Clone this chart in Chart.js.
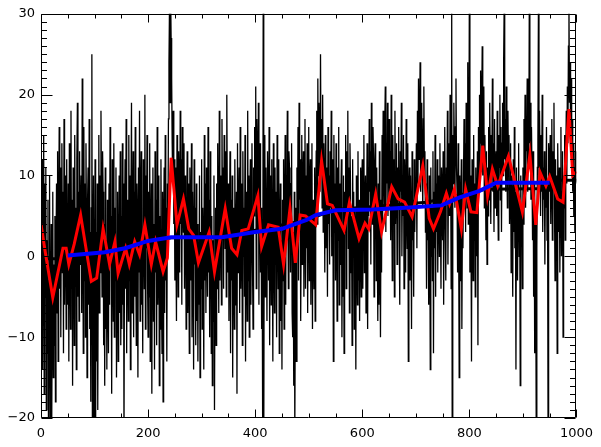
<!DOCTYPE html>
<html>
<head>
<meta charset="utf-8">
<script src="https://cdn.jsdelivr.net/npm/chart.js@4/dist/chart.umd.min.js"></script>
<style>
  html, body { margin: 0; padding: 0; background: #fff; }
  #c { display: block; }
</style>
</head>
<body>
<canvas id="c" width="601" height="447"></canvas>
<script>
// ---- data (read/estimated from the reference) ----
const noise = [
  3,-8,12,-14,6,15,-17,9,-5,11,-19,2,-12,7,-22,-3,10,-24,-9,4,-21,-6,8,-15,-1,-11,5,-18,0,9,-7,13,-13,3,16,-4,11,-10,6,14,-2,8,-12,17,-6,2,10,-9,12,-3,
  -6,9,-13,14,1,-9,18,-4,7,-16,11,3,-11,15,-2,6,-14,12,19,-5,8,-8,13,-1,5,10,-7,22,4,-12,16,-3,9,-10,14,2,-15,7,11,-6,17,-9,3,-18,6,25,-21,-4,10,-24,
  -8,12,-22,3,-13,9,-19,1,15,-7,10,-2,18,6,-5,13,8,-11,4,-16,11,-9,2,-14,7,-4,-12,9,-6,16,-1,5,-17,12,3,-8,14,-10,6,-3,11,-15,0,8,-13,-2,10,-7,13,-11,
  5,-9,14,-6,9,-23,3,12,-4,17,-12,7,1,-8,15,-3,10,-14,6,19,-7,2,13,-10,8,-5,16,-1,-11,9,4,-15,11,-2,18,-8,6,13,-6,3,-12,12,7,-4,20,-9,10,1,15,-3,
  -10,8,-5,14,-13,2,9,-17,6,11,-8,4,-14,13,-2,7,-11,16,-6,1,10,-16,5,-9,12,-4,-12,8,-18,3,11,-7,15,-3,6,-13,9,2,17,24,31,19,33,27,22,14,9,18,4,12,
  -3,11,1,-8,15,6,-5,13,9,-2,18,4,12,-6,16,8,3,14,-4,10,7,-9,2,13,-7,9,0,-12,11,5,-3,14,-10,8,2,-14,12,-1,6,-11,9,-8,4,-13,1,-6,10,-15,3,-4,
  12,-9,6,1,-14,15,-3,9,-7,11,4,-5,16,-2,7,-10,13,8,-12,5,-16,2,-8,10,-19,-1,6,-11,9,-4,14,3,-7,18,-3,10,5,-6,17,2,11,-4,15,8,1,13,-5,20,6,-2,
  9,-8,4,13,-12,7,-3,10,-15,6,2,-9,12,-6,1,8,-17,14,-2,5,11,-7,16,-4,3,9,-11,13,0,6,-5,15,-13,8,2,-8,18,-3,10,-10,7,12,-6,4,14,-1,-9,11,5,16,
  8,21,-4,17,12,3,19,-6,10,14,-2,6,-9,2,-22,34,-24,9,15,-5,11,3,-8,13,7,-3,16,-11,5,10,-6,12,1,-13,14,4,-7,11,-1,8,-10,15,6,-4,12,-12,3,9,-8,2,
  -14,7,-3,12,-9,4,15,-6,10,2,18,8,-4,13,11,6,-2,9,14,-7,-10,3,-16,8,-22,-5,6,-13,11,2,16,-3,19,7,12,-8,4,15,-1,9,13,-5,6,17,-4,10,1,14,-7,8,
  16,-3,9,12,-6,5,14,-9,7,2,-4,11,-8,6,13,18,4,22,10,19,15,8,25,12,17,6,20,3,14,9,-2,15,1,11,7,-5,16,4,10,-1,13,6,18,0,8,12,-13,15,3,9,
  -3,14,5,-8,11,2,16,-6,9,-1,7,12,-10,4,-5,10,-12,8,3,15,-4,13,6,18,1,11,-7,14,9,-2,5,-11,12,0,8,-9,6,3,-14,10,2,-6,13,-3,7,-8,4,11,-5,9,
  12,-4,8,15,-2,6,10,-7,3,14,-9,11,5,17,8,13,-1,19,9,4,16,12,-5,10,14,7,-3,11,2,-8,9,-6,13,1,-10,7,-2,15,4,18,11,6,16,21,3,14,9,19,5,12,
  17,8,13,2,20,10,-3,15,6,12,-5,18,4,9,14,-1,11,7,16,3,-6,13,8,19,0,10,5,15,-4,12,9,-2,17,6,1,14,-13,8,11,-3,10,4,-9,13,2,7,-5,12,3,8,
  6,14,1,18,9,22,12,16,24,8,15,19,11,6,17,21,10,13,3,9,-4,12,2,7,-6,10,4,-14,11,0,6,-3,13,-12,8,1,15,-5,9,3,12,-2,7,10,0,14,5,-4,11,8,
  2,13,-6,9,16,4,-3,11,7,18,-1,10,14,5,20,12,-4,32,-25,15,9,19,13,6,16,22,11,8,-2,14,3,-15,10,-3,6,12,-9,5,1,9,17,8,14,3,19,11,6,24,4,9,
  33,-2,10,4,-13,12,7,-3,15,2,9,-5,11,6,0,13,-11,16,8,20,14,23,12,18,26,10,17,21,6,15,9,2,13,-1,11,5,16,7,19,12,4,15,10,22,8,14,3,17,6,11,
  13,5,18,9,2,15,11,20,7,16,3,14,19,10,24,31,12,17,8,21,13,6,18,11,15,4,9,14,-2,10,6,-5,12,3,16,1,8,-14,11,5,-3,9,14,0,7,-16,10,2,6,-4,
  11,4,17,9,20,6,15,13,22,8,18,12,33,14,19,7,16,10,2,13,-5,9,-12,6,-3,-24,1,11,14,31,9,18,12,5,15,8,20,3,11,7,13,-1,10,6,16,2,9,-23,14,12,
  8,15,4,11,17,2,13,9,19,6,-3,12,1,10,-12,14,7,3,11,-2,9,16,0,8,13,-10,10,6,15,2,12,18,9,21,14,26,31,19,24,16,22,12,17,8,14,5,11,3,13,9
];

const redX = [0,8,22,41,47,52,62,74,94,104,116,128,138,144,158,165,175,184,194,206,214,228,236,243,254,266,276,285,294,314,324,344,356,366,375,387,405,412,425,443,453,465,475,484,494,513,524,535,544,566,576,594,605,612,625,636,655,667,679,693,713,725,733,746,757,763,772,785,793,803,814,825,834,843,853,873,899,913,924,932,943,950,965,975,986,993,1000];
const redY = [4.0,0.5,-5.1,1.0,1.0,-1.0,1.5,5.1,-3.1,-2.7,3.4,-1.0,1.8,-2.1,1.0,-1.0,1.8,0.2,3.9,-1.0,1.8,-1.9,-0.2,12.2,3.9,7.1,3.4,2.6,-0.8,3.0,-1.9,5.9,1.0,0.2,3.2,3.4,7.5,1.2,3.9,3.6,-1.0,5.9,-0.8,5.1,5.0,3.9,11.8,6.5,6.3,3.2,6.7,2.2,4.1,3.4,7.7,3.0,8.6,7.1,6.7,4.9,11.2,4.7,3.4,5.5,7.8,6.5,8.3,3.4,8.3,5.5,5.4,13.7,7.5,10.8,8.7,12.4,5.5,12.6,3.9,10.4,8.7,9.9,7.1,6.7,18.2,10.0,10.5];

const blueX = [50,119,157,200,243,338,400,450,496,513,550,619,681,748,782,819,850,950];
const blueY = [0.1,0.5,1.0,1.9,2.35,2.35,3.0,3.4,4.5,5.1,5.7,5.8,6.0,6.3,7.3,8.1,9.1,9.1];

const trendX = [0,50,243,338,496,550,720,830,950,955,1000];
const trendY = [-0.3,-0.3,2.3,2.4,4.5,5.8,6.7,8.3,8.4,9.4,9.4];

const xTicks = [0,200,400,600,800,1000];
const yTicks = [-20,-10,0,10,20,30];
const xMinorStep = 50;
const yMinorStep = 1;

// ---- helpers ----
const pts = (xs, ys) => xs.map((x, i) => ({ x: x, y: ys[i] }));

const idlAxes = {
  id: 'idlAxes',
  afterDatasetsDraw(chart) {
    const { ctx, chartArea: a, scales } = chart;
    const x = scales.x, y = scales.y;
    ctx.save();
    ctx.strokeStyle = '#000';
    ctx.lineWidth = 1;
    const L = Math.round(a.left) + 0.5, R = Math.round(a.right) - 0.5;
    const T = Math.round(a.top) + 0.5, B = Math.round(a.bottom) - 0.5;
    ctx.beginPath();
    ctx.rect(L, T, R - L, B - T);
    for (let v = y.min; v <= y.max + 1e-9; v += yMinorStep) {
      const py = Math.round(y.getPixelForValue(v)) + 0.5;
      const len = yTicks.includes(v) ? 11 : 5.5;
      ctx.moveTo(L, py); ctx.lineTo(L + len, py);
      ctx.moveTo(R, py); ctx.lineTo(R - len, py);
    }
    for (let v = x.min; v <= x.max + 1e-9; v += xMinorStep) {
      const px = Math.round(x.getPixelForValue(v)) + 0.5;
      const len = xTicks.includes(v) ? 8 : 4;
      ctx.moveTo(px, B); ctx.lineTo(px, B - len);
      ctx.moveTo(px, T); ctx.lineTo(px, T + len);
    }
    ctx.stroke();
    ctx.restore();
  }
};

const tickFont = { family: 'DejaVu Sans', size: 13 };

new Chart(document.getElementById('c'), {
  type: 'line',
  data: {
    datasets: [
      { data: pts(blueX, blueY), borderColor: '#0000ff', borderWidth: 4, pointRadius: 0, tension: 0, order: 0 },
      { data: pts(redX, redY), borderColor: '#ff0000', borderWidth: 3, pointRadius: 0, tension: 0, order: 1 },
      { data: pts(trendX, trendY), borderColor: '#000000', borderWidth: 3, pointRadius: 0, tension: 0, order: 2 },
      { data: noise.map((v, i) => ({ x: i, y: v })), borderColor: '#000000', borderWidth: 1.3, pointRadius: 0, tension: 0, order: 3 }
    ]
  },
  options: {
    responsive: false,
    animation: false,
    events: [],
    layout: { padding: { left: 0, right: 24, top: 10, bottom: 0 } },
    plugins: { legend: { display: false }, tooltip: { enabled: false } },
    scales: {
      x: {
        type: 'linear', min: 0, max: 1000,
        afterBuildTicks: s => { s.ticks = xTicks.map(v => ({ value: v })); },
        afterFit: s => { s.height = 29; },
        grid: { display: false, drawTicks: false },
        border: { display: false },
        ticks: { font: tickFont, color: '#000', padding: 8, maxRotation: 0, autoSkip: false,
                 callback: v => String(v) }
      },
      y: {
        type: 'linear', min: -20, max: 30,
        afterBuildTicks: s => { s.ticks = yTicks.map(v => ({ value: v })); },
        afterFit: s => { s.width = 41; },
        grid: { display: false, drawTicks: false },
        border: { display: false },
        ticks: { font: tickFont, color: '#000', padding: 6, autoSkip: false,
                 callback: v => (v < 0 ? '\u2212' + Math.abs(v) : String(v)) }
      }
    }
  },
  plugins: [idlAxes]
});
</script>
</body>
</html>
